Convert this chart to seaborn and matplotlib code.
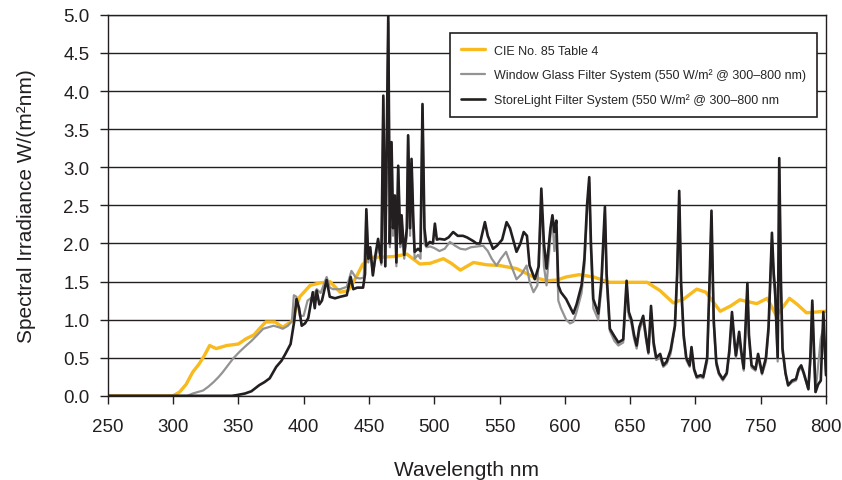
import matplotlib
matplotlib.use("Agg")
import matplotlib.pyplot as plt
import seaborn as sns
import pandas as pd

# CIE No. 85 Table 4 reference spectrum
wl_cie = [250, 300, 305, 310, 315, 320, 324, 328, 333, 341, 350, 356, 362, 366, 371, 378, 384, 391,
          397, 405, 412, 420, 428, 434, 440, 445, 451, 460, 470, 479, 489, 497, 507, 513, 520, 530,
          540, 550, 563, 576, 586, 594, 601, 611, 622, 634, 650, 663, 673, 683, 691, 701, 708, 719,
          727, 734, 747, 755, 762, 772, 778, 785, 800]
cie = [0, 0, 0.05, 0.15, 0.31, 0.42, 0.53, 0.66, 0.62, 0.66, 0.68, 0.75, 0.80, 0.88, 0.97, 0.97, 0.90, 0.98,
       1.30, 1.45, 1.48, 1.50, 1.36, 1.38, 1.55, 1.72, 1.82, 1.82, 1.83, 1.86, 1.73, 1.74, 1.80, 1.74, 1.65, 1.75,
       1.72, 1.71, 1.67, 1.56, 1.51, 1.52, 1.56, 1.59, 1.56, 1.49, 1.49, 1.49, 1.38, 1.22, 1.27, 1.40, 1.36, 1.11,
       1.18, 1.26, 1.21, 1.28, 1.05, 1.28, 1.20, 1.09, 1.11]

# Window glass filter system
wl_glass = [250, 311, 315, 319, 323, 327, 331, 335, 338, 342, 346, 351, 356, 360, 364, 369, 373, 377, 381,
            384, 388, 391, 392.5, 394.5, 397, 400, 403, 407, 410, 413, 417.6, 420, 422.6, 428, 433, 436.6,
            440, 443, 446, 448, 449.5, 451, 453, 455, 457, 459.5, 461, 462.5, 464.8, 466, 467.3, 468.5,
            469.8, 471, 472.4, 474, 475, 477, 479, 480, 481.5, 482.6, 484, 485, 487.6, 489.5, 491, 492.5,
            494, 497, 500, 504, 508, 512, 516, 520, 524, 528, 533, 537.5, 541, 544, 547.7, 551, 555, 558,
            563, 567, 570.7, 573, 576, 579, 582, 584, 586, 589, 590.5, 592, 593.5, 595, 597, 601, 604,
            606.5, 609, 612.8, 615, 617, 618.7, 620, 621.8, 625.6, 628, 630.7, 632, 634.5, 638, 641, 644.7,
            647.3, 649, 651, 653, 655, 657, 660, 662, 664, 666, 668, 670, 673, 675.4, 678, 681, 684.3, 686,
            687.6, 689, 691, 693, 695.6, 697, 699, 701, 704, 706, 709, 711, 712.3, 714, 716, 718, 721, 724,
            726, 728, 730, 731, 733.5, 735, 737, 739.8, 741, 743, 746, 748, 751, 754, 756, 758.6, 760, 761,
            763, 764.2, 765.5, 766.7, 769, 771, 774, 777, 779, 781, 783, 786.5, 788, 789.5, 791, 792, 794,
            796, 798, 800]
glass = [0, 0, 0.03, 0.05, 0.07, 0.12, 0.18, 0.25, 0.31, 0.40, 0.49, 0.58, 0.66, 0.72, 0.79, 0.88, 0.90, 0.92, 0.90,
         0.88, 0.92, 0.98, 1.32, 1.30, 1.05, 1.05, 1.25, 1.30, 1.40, 1.35, 1.56, 1.42, 1.40, 1.40, 1.43, 1.64,
         1.55, 1.54, 1.55, 2.40, 1.75, 1.90, 1.60, 1.80, 2.00, 1.72, 3.90, 1.70, 4.90, 1.95, 3.30, 2.10,
         2.60, 1.70, 3.00, 1.95, 2.30, 1.80, 2.10, 3.40, 2.10, 3.05, 2.20, 1.80, 1.85, 1.80, 3.80, 2.00,
         1.95, 1.96, 1.94, 1.90, 1.93, 2.02, 1.97, 1.93, 1.92, 1.95, 1.96, 1.97, 1.90, 1.80, 1.71, 1.80, 1.89, 1.75,
         1.53, 1.60, 1.71, 1.50, 1.36, 1.45, 2.60, 1.70, 1.45, 2.10, 2.30, 1.90, 2.20, 1.25, 1.15, 1.00, 0.95,
         0.97, 1.10, 1.35, 1.70, 2.40, 2.80, 1.90, 1.15, 1.00, 1.40, 2.40, 1.50, 0.85, 0.72, 0.66, 0.70,
         1.45, 1.05, 0.95, 0.75, 0.62, 0.85, 1.00, 0.75, 0.55, 1.10, 0.65, 0.47, 0.50, 0.38, 0.42, 0.55, 0.90, 1.55,
         2.60, 1.40, 0.75, 0.47, 0.38, 0.60, 0.33, 0.23, 0.25, 0.23, 0.45, 1.50, 2.35, 0.95, 0.40, 0.28, 0.20, 0.28,
         0.55, 1.05, 0.65, 0.50, 0.80, 0.55, 0.33, 1.40, 0.75, 0.37, 0.33, 0.50, 0.28, 0.45, 0.85, 2.05, 1.50, 1.30,
         0.45, 3.00, 1.40, 0.58, 0.28, 0.13, 0.18, 0.20, 0.32, 0.38, 0.28, 0.08, 0.45, 1.20, 0.45, 0.05, 0.40,
         0.75, 0.90, 0.30]

# StoreLight filter system
wl_store = [250, 345, 349, 355, 360, 366, 370, 374, 379, 383, 386, 390, 392.7, 394.5, 396.5, 398.5, 401,
            403.5, 407, 408.5, 410, 412, 414, 417.6, 420, 424, 428, 433, 436, 438, 441, 445.5, 447, 448,
            449.5, 451, 453, 455, 457, 459.5, 461, 462.5, 464.8, 466, 467.3, 468.5, 469.8, 471, 472.4, 474,
            475, 477, 479, 480, 481.5, 482.6, 484, 485, 487.6, 489.5, 491, 492.5, 494, 496.6, 499, 500.5,
            502, 504, 508, 511, 514.5, 518, 522, 525, 527, 530, 532.3, 535, 538.8, 541, 545, 548, 552,
            555.4, 558, 563, 566, 568.5, 571, 573, 577, 580, 582, 584, 586, 589, 590.5, 592, 593.5, 595,
            597, 601, 606.5, 609, 612.8, 615, 617, 618.7, 620, 621.8, 625.6, 628, 630.7, 632, 634.5, 638,
            641, 644.7, 647.3, 649, 651, 653, 655, 657, 660, 662, 664, 666, 668, 670, 673, 675.4, 678, 681,
            684.3, 686, 687.6, 689, 691, 693, 695.6, 697, 699, 701, 704, 706, 709, 711, 712.3, 714, 716, 718,
            721, 724, 726, 728, 730, 731, 733.5, 735, 737, 739.8, 741, 743, 746, 748, 751, 754, 756, 758.6,
            760, 761, 763, 764.2, 765.5, 766.7, 769, 771, 774, 777, 779, 781, 783, 786.5, 788, 789.5, 791,
            792, 794, 796, 798, 800]
store = [0, 0, 0.01, 0.03, 0.06, 0.14, 0.18, 0.23, 0.38, 0.46, 0.55, 0.68, 0.97, 1.27, 1.15, 0.92, 0.95,
         1.02, 1.36, 1.15, 1.38, 1.20, 1.25, 1.52, 1.30, 1.28, 1.30, 1.32, 1.56, 1.40, 1.42, 1.42, 1.60, 2.45,
         1.80, 1.95, 1.58, 1.85, 2.06, 1.75, 3.94, 1.70, 5.00, 2.00, 3.33, 2.20, 2.63, 1.75, 3.02, 2.00,
         2.37, 1.85, 2.20, 3.42, 2.20, 3.11, 2.30, 1.89, 1.93, 1.90, 3.83, 2.20, 1.97, 2.02, 2.00, 2.26,
         2.05, 2.06, 2.05, 2.08, 2.15, 2.10, 2.10, 2.08, 2.06, 2.03, 2.00, 2.00, 2.28, 2.10, 1.93, 1.97, 2.05,
         2.28, 2.20, 1.89, 2.00, 2.15, 2.10, 1.71, 1.53, 1.70, 2.72, 2.00, 1.67, 2.20, 2.37, 2.15, 2.30, 1.45,
         1.36, 1.27, 1.08, 1.20, 1.45, 1.80, 2.50, 2.87, 2.00, 1.27, 1.08, 1.50, 2.48, 1.60, 0.88, 0.78,
         0.70, 0.74, 1.51, 1.10, 1.00, 0.80, 0.66, 0.90, 1.05, 0.80, 0.57, 1.18, 0.70, 0.50, 0.55, 0.40, 0.45, 0.60,
         0.92, 1.60, 2.69, 1.50, 0.80, 0.50, 0.40, 0.64, 0.35, 0.25, 0.27, 0.25, 0.50, 1.60, 2.43, 1.00, 0.44, 0.30,
         0.22, 0.30, 0.60, 1.10, 0.70, 0.53, 0.84, 0.60, 0.36, 1.48, 0.80, 0.40, 0.35, 0.55, 0.30, 0.50, 0.90, 2.14,
         1.60, 1.40, 0.50, 3.12, 1.50, 0.62, 0.30, 0.14, 0.20, 0.22, 0.35, 0.40, 0.30, 0.09, 0.50, 1.25, 0.50,
         0.05, 0.15, 0.20, 1.10, 0.27]

labels = ["CIE No. 85 Table 4",
          "Window Glass Filter System (550 W/m² @ 300–800 nm)",
          "StoreLight Filter System (550 W/m² @ 300–800 nm"]
colors = ["#F8BA1C", "#939393", "#231F20"]
widths = [2.4, 1.6, 1.9]

sns.set_style("white")
plt.rcParams["font.family"] = ["Liberation Sans", "DejaVu Sans"]

fig, ax = plt.subplots(figsize=(8.42, 4.81), dpi=100)
fig.subplots_adjust(left=0.128, right=0.981, bottom=0.175, top=0.967)

series = [(wl_cie, cie), (wl_glass, glass), (wl_store, store)]
for (x, y), lab, col, lw in zip(series, labels, colors, widths):
    df = pd.DataFrame({"wl": x, "val": y})
    sns.lineplot(data=df, x="wl", y="val", ax=ax, color=col, lw=lw, label=lab,
                 estimator=None, sort=False)

ax.set_xlim(250, 800)
ax.set_ylim(0, 5)
ax.set_xticks(range(250, 801, 50))
ax.set_yticks([i * 0.5 for i in range(11)])
ax.set_yticklabels([f"{i * 0.5:.1f}" for i in range(11)])
ax.yaxis.grid(True, color="#231F20", lw=1.0)
ax.set_axisbelow(True)
for sp in ax.spines.values():
    sp.set_color("#231F20")
    sp.set_linewidth(1.0)
ax.tick_params(axis="both", labelsize=13.5, colors="#231F20", direction="out",
               length=6, width=1, left=True, bottom=True)
ax.tick_params(axis="x", pad=10)
ax.tick_params(axis="y", pad=7)

ax.set_xlabel("Wavelength nm", fontsize=15, labelpad=18, color="#231F20")
ax.set_ylabel("Spectral Irradiance W/(m²nm)", fontsize=15, labelpad=20, color="#231F20")

leg = ax.legend(loc="upper left", bbox_to_anchor=(0.468, 0.968), fontsize=9.0,
                frameon=True, fancybox=False, edgecolor="#231F20", handlelength=1.9,
                handletextpad=0.7, borderpad=0.9, labelspacing=0.95, framealpha=1)
leg.get_frame().set_linewidth(1.2)

fig.savefig("out.png", dpi=100)
plt.close(fig)
